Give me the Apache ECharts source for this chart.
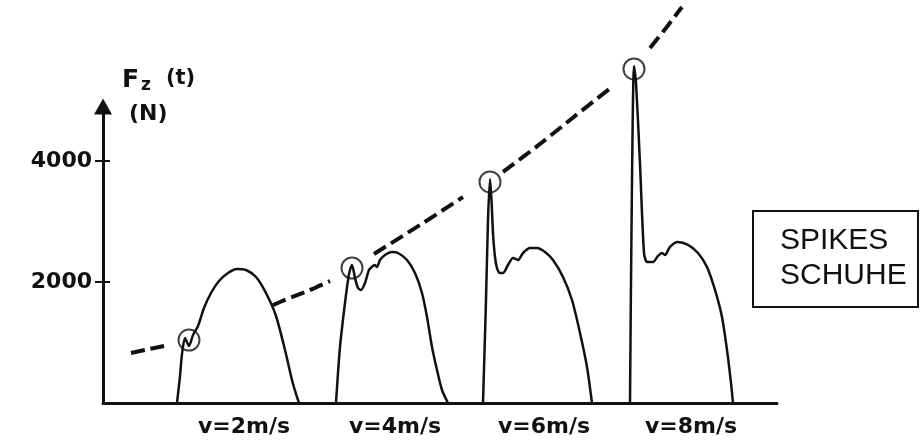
<!DOCTYPE html>
<html>
<head>
<meta charset="utf-8">
<script src="https://cdn.jsdelivr.net/npm/echarts@6/dist/echarts.min.js"></script>
<style>
  html, body { margin: 0; padding: 0; background: #fff; }
  #chart { width: 921px; height: 443px; }
</style>
</head>
<body>
<div id="chart"></div>
<script>
// time (arbitrary units along the baseline) / vertical force in N
const curve2ms = [
  [74, 0], [77, 446], [79, 810], [82, 1074], [86, 942], [90, 1124], [95, 1273],
  [101, 1570], [108, 1818], [116, 2017], [125, 2149], [134, 2215], [143, 2198],
  [153, 2083], [163, 1818], [173, 1438], [182, 876], [189, 380], [193, 149], [196, 0]
];
const curve4ms = [
  [233, 0], [237, 926], [242, 1653], [246, 2132], [249, 2281], [252, 2066], [255, 1901],
  [258, 1868], [262, 1983], [266, 2198], [270, 2264], [272, 2281], [274, 2248],
  [277, 2364], [282, 2446], [289, 2496], [295, 2479], [304, 2364], [312, 2149],
  [319, 1818], [324, 1421], [329, 926], [334, 545], [339, 215], [345, 0]
];
const curve6ms = [
  [380, 0], [383, 1702], [385, 3025], [387, 3702], [388.5, 3355], [390, 2810],
  [392, 2413], [394, 2231], [397, 2149], [400, 2149], [405, 2281], [410, 2397],
  [415, 2364], [420, 2479], [427, 2562], [434, 2562], [442, 2496], [450, 2364],
  [460, 2083], [469, 1702], [477, 1157], [484, 595], [489, 0]
];
const curve8ms = [
  [527, 0], [528.5, 2860], [531, 5570], [533, 5300], [537, 3950], [541, 2480],
  [544, 2330], [550, 2330], [555, 2430], [559, 2480], [562, 2446], [567, 2580],
  [575, 2660], [585, 2612], [595, 2479], [604, 2248], [612, 1868], [619, 1421],
  [624, 876], [628, 331], [630, 0]
];
// impact peaks (circled)
const peaks = [[86, 1041], [249, 2231], [387, 3653], [531, 5520]];
// dashed envelope through the peaks, null = gap
const envelope = [
  [28, 826], [44, 884], [61, 942], [61, null],
  [96, 1107], [137, 1372], [177, 1669], [207, 1868], [227, 2017], [227, null],
  [271, 2463], [317, 2942], [360, 3405], [360, null],
  [400, 3818], [437, 4281], [472, 4744], [509, 5223], [509, null],
  [547, 5868], [563, 6198], [579, 6545]
];
const yTicks = [2000, 4000];
const speedPos = [141, 292, 441, 588];
const speedLabels = ['v=2m/s', 'v=4m/s', 'v=6m/s', 'v=8m/s'];

const ink = '#111';
const boldFont = 'DejaVu Sans';

function hump(data) {
  return {
    type: 'line',
    z: 3,
    data: data,
    symbol: 'none',
    smooth: 0.25,
    clip: false,
    lineStyle: { color: ink, width: 2.5 },
    areaStyle: { color: '#fff', opacity: 1 }
  };
}

const chart = echarts.init(document.getElementById('chart'));
chart.setOption({
  animation: false,
  backgroundColor: '#fff',
  title: {
    text: 'SPIKES\nSCHUHE',
    left: 753,
    top: 211,
    padding: [12, 12, 14, 27],
    borderColor: ink,
    borderWidth: 2,
    textStyle: {
      fontFamily: 'Liberation Sans',
      fontSize: 30,
      fontWeight: 'normal',
      lineHeight: 35,
      color: ink
    }
  },
  grid: { left: 103, right: 144, top: 106.5, bottom: 40 },
  xAxis: {
    type: 'value',
    min: 0,
    max: 674,
    z: 5,
    axisLine: { lineStyle: { color: ink, width: 3 } },
    axisTick: { show: false },
    splitLine: { show: false },
    axisLabel: {
      customValues: speedPos,
      margin: 13,
      color: ink,
      fontFamily: boldFont,
      fontWeight: 'bold',
      fontSize: 22,
      formatter: (v) => speedLabels[speedPos.indexOf(v)] || ''
    }
  },
  yAxis: [
    {
      type: 'value',
      min: 0,
      max: 4900,
      position: 'left',
      z: 5,
      axisLine: {
        show: true,
        lineStyle: { color: ink, width: 3 },
        symbol: ['none', 'triangle'],
        symbolSize: [18, 16]
      },
      axisTick: { show: true, length: 8, customValues: yTicks, lineStyle: { color: ink, width: 2 } },
      splitLine: { show: false },
      axisLabel: {
        customValues: yTicks,
        margin: 11,
        color: ink,
        fontFamily: boldFont,
        fontWeight: 'bold',
        fontSize: 22,
        formatter: (v) => String(v)
      },
      name: '{f|F}{s|z}{t|(t)}\n{n|(N)}',
      nameLocation: 'end',
      nameGap: 38.5,
      nameTextStyle: {
        align: 'left',
        verticalAlign: 'top',
        padding: [0, 0, 0, 19],
        color: ink,
        fontFamily: boldFont,
        fontWeight: 'bold',
        rich: {
          f: { fontFamily: boldFont, fontWeight: 'bold', fontSize: 25, lineHeight: 26, verticalAlign: 'top', color: ink },
          s: { fontFamily: boldFont, fontWeight: 'bold', fontSize: 17, lineHeight: 14, padding: [20, 3, 0, 2], verticalAlign: 'bottom', color: ink },
          t: { fontFamily: boldFont, fontWeight: 'bold', fontSize: 21, lineHeight: 26, padding: [0, 0, 0, 12], verticalAlign: 'top', color: ink },
          n: { fontFamily: boldFont, fontWeight: 'bold', fontSize: 22, lineHeight: 40, padding: [0, 0, 0, 7], color: ink }
        }
      }
    },
    {
      type: 'value',
      min: 0,
      max: 4900,
      position: 'left',
      z: 5,
      axisLine: { show: false },
      axisTick: { show: true, inside: true, length: 7, customValues: yTicks, lineStyle: { color: ink, width: 2 } },
      axisLabel: { show: false },
      splitLine: { show: false }
    }
  ],
  series: [
    {
      type: 'line',
      z: 2,
      data: envelope,
      symbol: 'none',
      smooth: 0.3,
      connectNulls: false,
      clip: false,
      lineStyle: { color: ink, width: 4, type: [14, 6], cap: 'butt' }
    },
    hump(curve2ms),
    hump(curve4ms),
    hump(curve6ms),
    hump(curve8ms),
    {
      type: 'scatter',
      z: 4,
      data: peaks,
      symbol: 'circle',
      symbolSize: 21,
      clip: false,
      itemStyle: { color: 'rgba(0,0,0,0)', borderColor: ink, borderWidth: 2 }
    }
  ]
});
</script>
</body>
</html>
